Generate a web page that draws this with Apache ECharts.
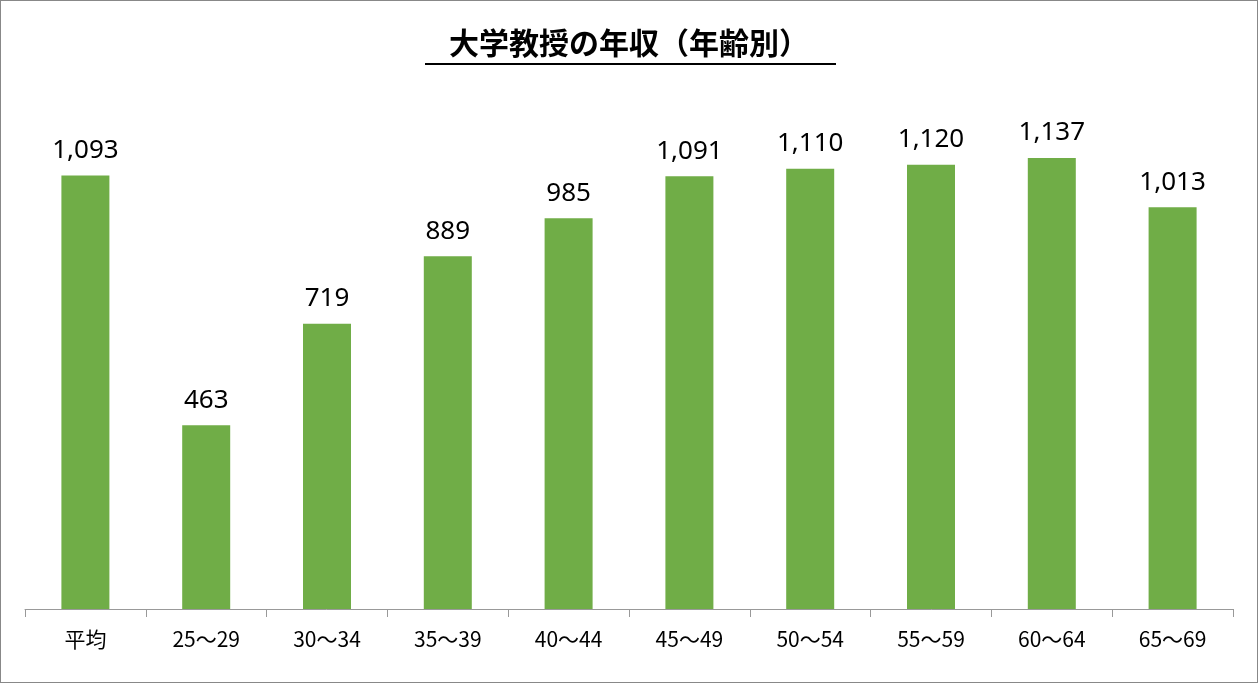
<!DOCTYPE html>
<html><head><meta charset="utf-8">
<script src="https://cdn.jsdelivr.net/npm/echarts@6/dist/echarts.min.js"></script>
<style>html,body{margin:0;padding:0;background:#fff}#c{width:1258px;height:683px;box-sizing:border-box;border:1px solid #888}</style>
</head><body><div id="c"></div>
<script>
const categories = ['平均','25〜29','30〜34','35〜39','40〜44','45〜49','50〜54','55〜59','60〜64','65〜69'];
const values = [1093,463,719,889,985,1091,1110,1120,1137,1013];

const chart = echarts.init(document.getElementById('c'));
chart.setOption({
  animation: false,
  title: {
    text: '大学教授の年収（年齢別）', left: 'center', top: 22,
    textStyle: { fontFamily: 'Noto Sans CJK JP', fontSize: 30, fontWeight: 'bold', color: '#000', textBorderColor: '#000', textBorderWidth: 0 }
  },
  graphic: [{ type: 'rect', shape: { x: 424, y: 62, width: 411, height: 2 }, style: { fill: '#000' } }],
  grid: { left: 24, right: 24, top: 132, bottom: 73 },
  xAxis: {
    type: 'category', data: categories,
    axisLine: { lineStyle: { color: '#999' } },
    axisTick: { show: true, length: 8, lineStyle: { color: '#999' } },
    axisLabel: { color: '#000', fontSize: 21, margin: 20, fontFamily: 'Noto Sans CJK JP' }
  },
  yAxis: { type: 'value', min: 0, max: 1200, show: false, splitLine: { show: false } },
  series: [{
    type: 'bar', data: values, barWidth: 48,
    itemStyle: { color: '#70ad47' },
    label: {
      show: true, position: 'top', distance: 12, fontSize: 26, color: '#000',
      fontFamily: 'Noto Sans', formatter: p => p.value.toLocaleString('en-US')
    }
  }]
});
</script></body></html>
